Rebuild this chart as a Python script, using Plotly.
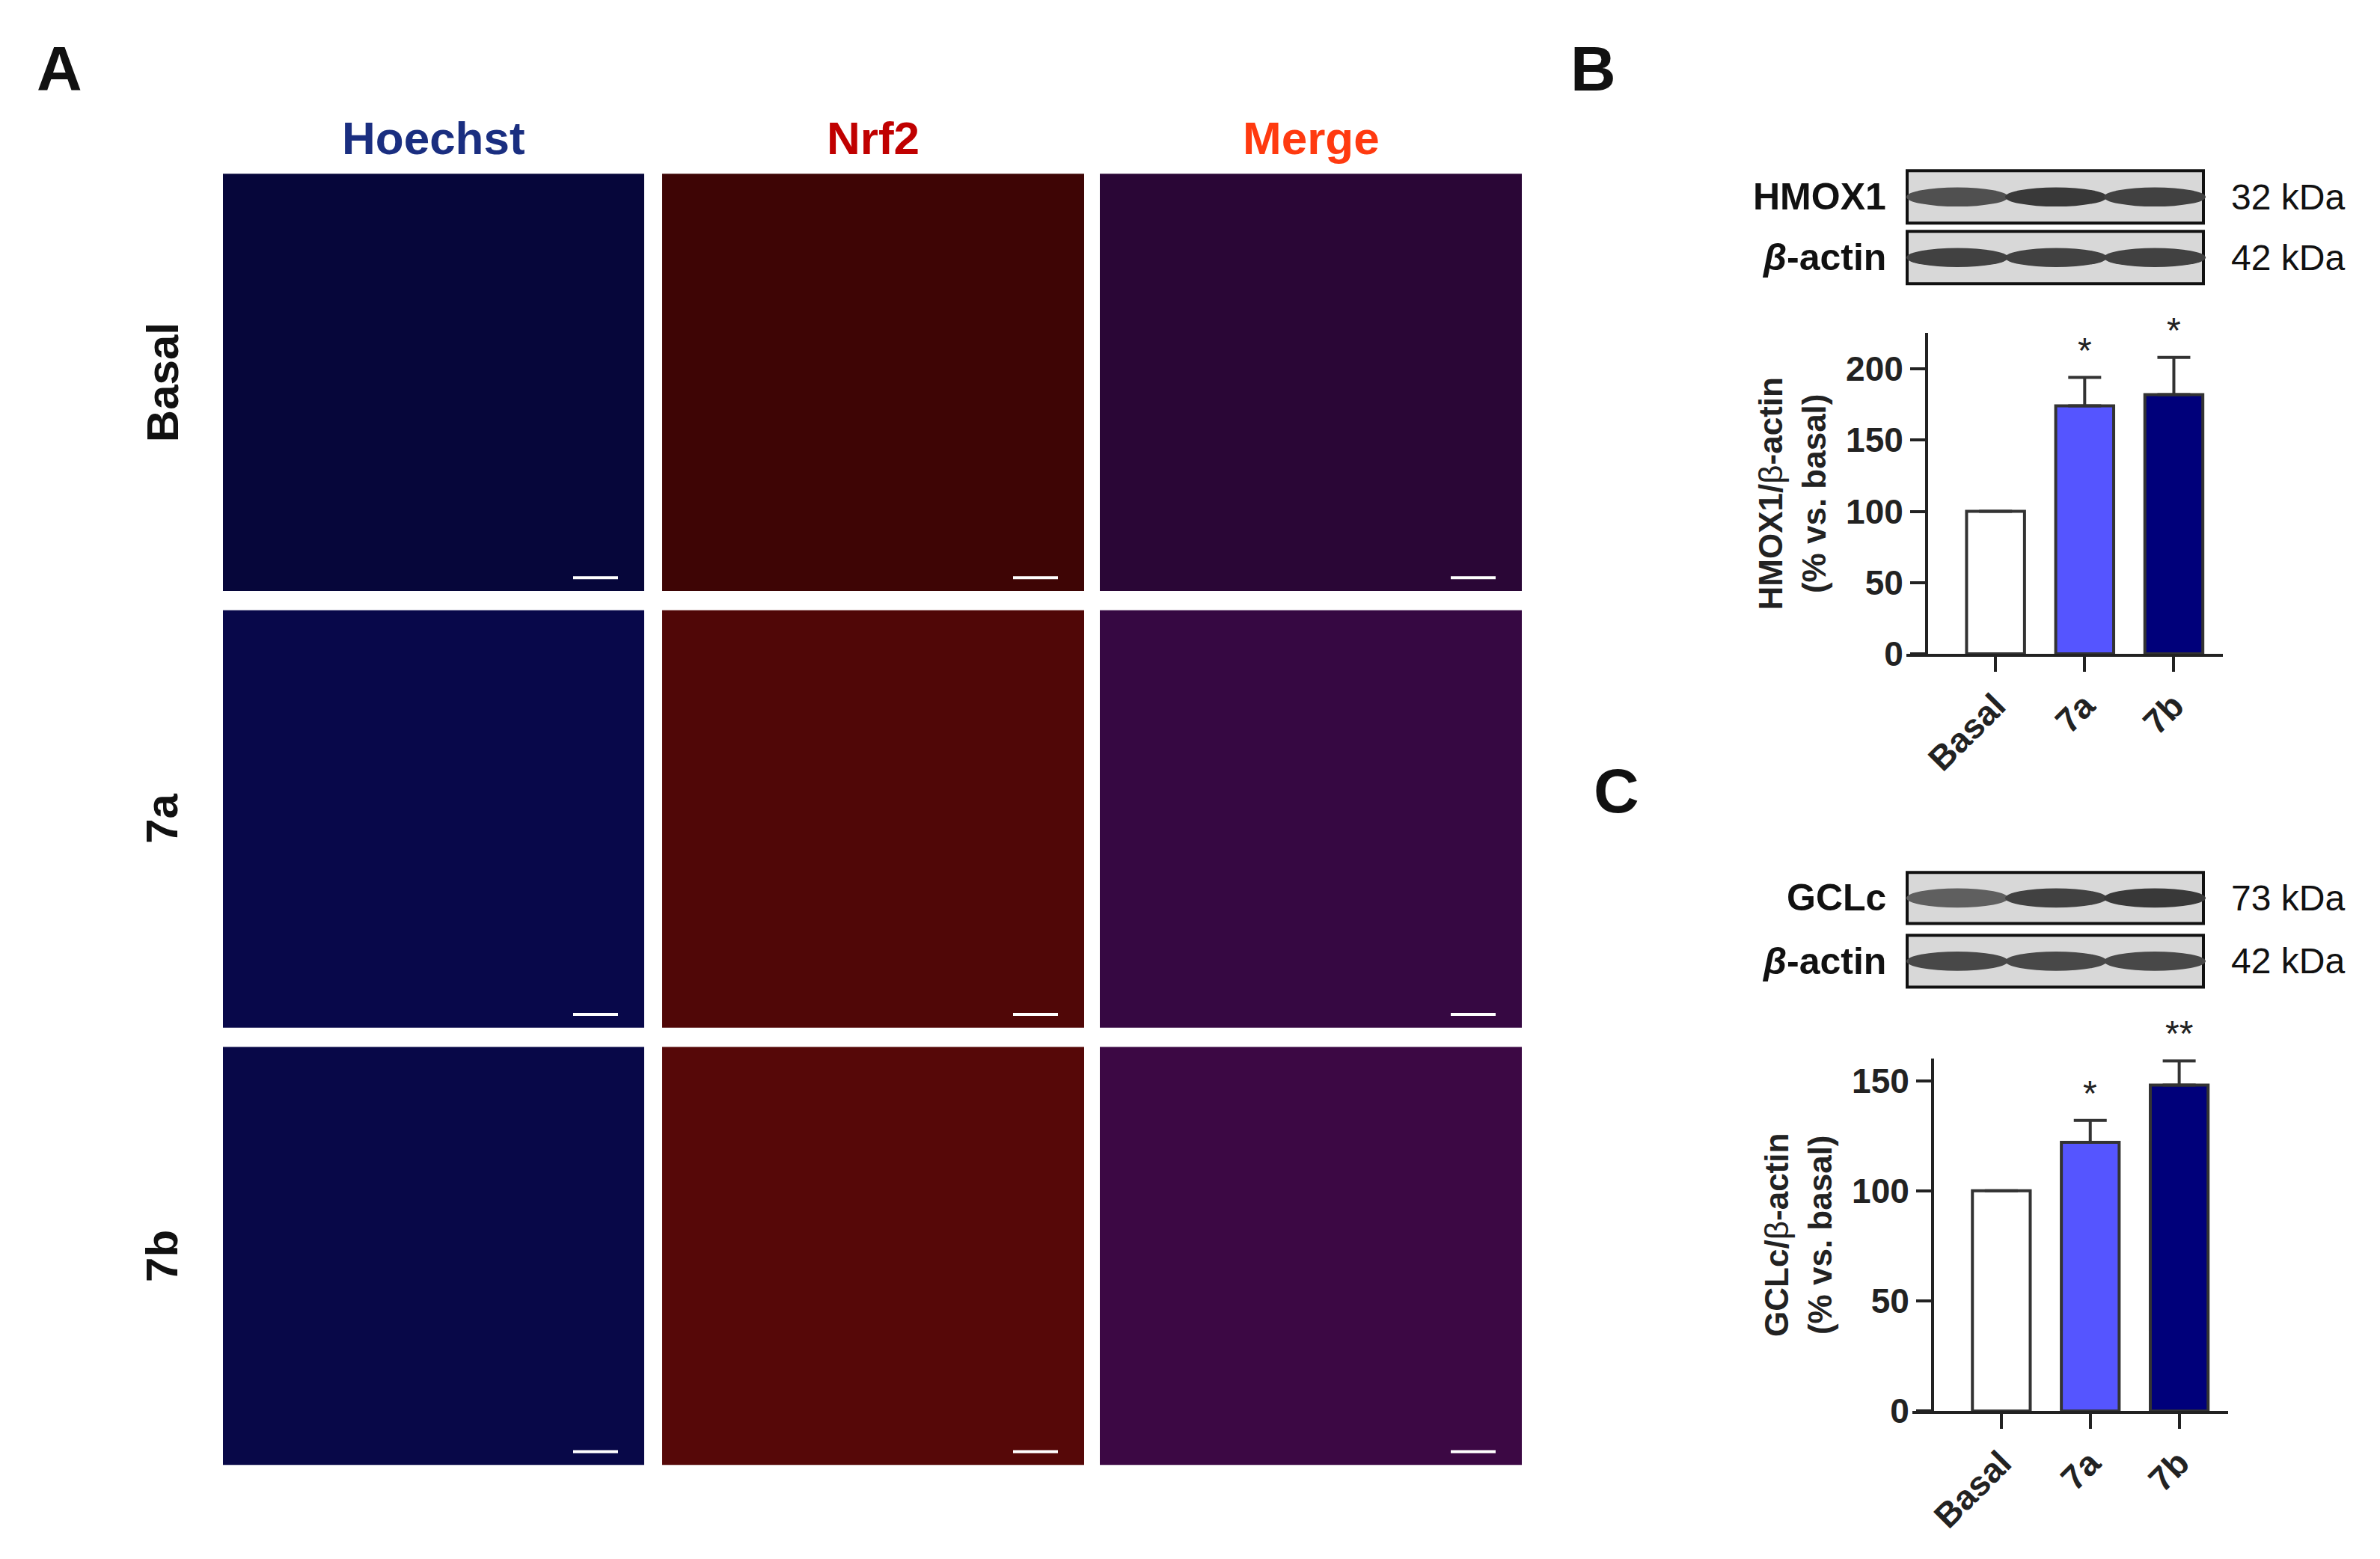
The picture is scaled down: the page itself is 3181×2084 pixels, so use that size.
import plotly.graph_objects as go

cats = ["Basal", "7a", "7b"]
hmox_vals = [100, 174, 182]
hmox_err = [0, 20, 26]
hmox_sig = ["", "*", "*"]
gclc_vals = [100, 122, 148]
gclc_err = [0, 10, 11]
gclc_sig = ["", "*", "**"]
bar_colors = ["white", "#5555ff", "#00007a"]
col_titles = ["Hoechst", "Nrf2", "Merge"]
row_titles = ["Basal", "7a", "7b"]

W, H = 3181, 2084
F = "Liberation Sans"
fig = go.Figure()

def px(x): return x / W
def py(y): return 1 - y / H

shapes, ann = [], []
xs = [0, 1, 2]
for vals, err, sig, xa, ya in [(hmox_vals, hmox_err, hmox_sig, "x", "y"),
                               (gclc_vals, gclc_err, gclc_sig, "x2", "y2")]:
    fig.add_trace(go.Bar(x=xs, y=vals, width=0.65, marker=dict(color=bar_colors, line=dict(color="#333", width=4)),
                         error_y=dict(type="data", array=err, symmetric=False, arrayminus=[0]*3, color="#333", thickness=4, width=22),
                         xaxis=xa, yaxis=ya, showlegend=False))
    for xi, v, e, s in zip(xs, vals, err, sig):
        if s:
            ann.append(dict(x=xi, y=v + e, xref=xa, yref=ya, text=s, showarrow=False, yanchor="bottom", yshift=8,
                            font=dict(size=48, color="#222", family=F)))

tf = dict(size=46, family=F, color="#222", weight="bold")
ax = dict(showline=True, linecolor="#222", linewidth=4, ticks="outside", ticklen=20, tickwidth=4, tickcolor="#222",
          tickfont=tf, showgrid=False, zeroline=False)
tt = dict(size=44, family=F, color="#222", weight="bold")
fig.update_layout(
    width=W, height=H, paper_bgcolor="white", plot_bgcolor="white", margin=dict(l=0, r=0, t=0, b=0),
    xaxis=dict(ax, domain=[px(2540), px(2963)], range=[-1, 2.55], tickvals=xs, ticktext=cats, tickangle=-45, anchor="y"),
    yaxis=dict(ax, domain=[py(877), py(443)], range=[0, 225], tickvals=[0, 50, 100, 150, 200], anchor="free", position=px(2567),
               title=dict(text="HMOX1/<span style='font-weight:normal'>β</span>-actin<br>(% vs. basal)", font=tt, standoff=12)),
    xaxis2=dict(ax, domain=[px(2548), px(2970)], range=[-1, 2.55], tickvals=xs, ticktext=cats, tickangle=-45, anchor="y2"),
    yaxis2=dict(ax, domain=[py(1902), py(1425)], range=[0, 160], tickvals=[0, 50, 100, 150], anchor="free", position=px(2575),
                title=dict(text="GCLc/<span style='font-weight:normal'>β</span>-actin<br>(% vs. basal)", font=tt, standoff=12)),
)

def txt(x, y, t, size, color="#111", xanchor="center", angle=0, bold=True):
    ann.append(dict(x=px(x), y=py(y), xref="paper", yref="paper", text=f"<b>{t}</b>" if bold else t, showarrow=False,
                    font=dict(size=size, family=F, color=color), xanchor=xanchor, yanchor="middle", textangle=angle))

# microscopy grid
cols = [(290, 853), (877, 1441), (1462, 2026)]
rows = [(227, 792), (818, 1383), (1409, 1975)]
tints = [["#06063a", "#08084a", "#080848"], ["#3e0505", "#500707", "#560808"], ["#2a0636", "#360842", "#3c0844"]]
for ci, (x0, x1) in enumerate(cols):
    for ri, (y0, y1) in enumerate(rows):
        shapes.append(dict(type="rect", xref="paper", yref="paper", x0=px(x0), x1=px(x1), y0=py(y1), y1=py(y0),
                           fillcolor=tints[ci][ri], line=dict(width=0), layer="below"))
        shapes.append(dict(type="line", xref="paper", yref="paper", x0=px(x1 - 95), x1=px(x1 - 35), y0=py(y1 - 18), y1=py(y1 - 18),
                           line=dict(color="white", width=4)))
txt(71, 85, "A", 84)
for (x0, x1), t, c in zip(cols, col_titles, ["#1a2e80", "#c00000", "#ff3a10"]):
    txt((x0 + x1) / 2, 179, t, 62, c)
for (y0, y1), t in zip(rows, row_titles):
    txt(209, (y0 + y1) / 2, t, 60, angle=-90)

# blots
txt(2121, 85, "B", 84)
txt(2152, 1062, "C", 84)
blots = [(223, 294, "HMOX1", "32 kDa", [0.8, 0.95, 0.9]), (305, 376, "<i>β</i>-actin", "42 kDa", [0.9, 0.9, 0.9]),
         (1173, 1242, "GCLc", "73 kDa", [0.7, 0.9, 0.95]), (1258, 1328, "<i>β</i>-actin", "42 kDa", [0.85, 0.85, 0.85])]
for y0, y1, lab, kda, inten in blots:
    shapes.append(dict(type="rect", xref="paper", yref="paper", x0=px(2541), x1=px(2937), y0=py(y1), y1=py(y0),
                       fillcolor="#d8d8d8", line=dict(color="#111", width=4)))
    for lc, it in zip([2608, 2740, 2872], inten):
        g = int(200 - 150 * it)
        shapes.append(dict(type="circle", xref="paper", yref="paper", x0=px(lc - 68), x1=px(lc + 68),
                           y0=py((y0 + y1) / 2 + 13), y1=py((y0 + y1) / 2 - 13), fillcolor=f"rgb({g},{g},{g})", line=dict(width=0)))
    txt(2515, (y0 + y1) / 2, lab, 50, xanchor="right")
    txt(2972, (y0 + y1) / 2, kda, 48, xanchor="left", bold=False)

fig.update_layout(shapes=shapes, annotations=ann)
fig.write_html("out.html")
